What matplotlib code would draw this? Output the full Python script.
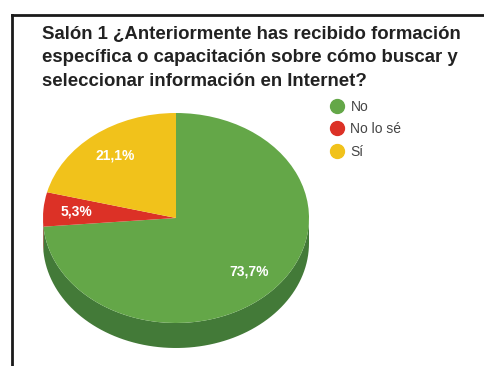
# -*- coding: utf-8 -*-
import numpy as np
import matplotlib
matplotlib.use('Agg')
import matplotlib.pyplot as plt
from matplotlib.patches import Polygon
from matplotlib.lines import Line2D

plt.rcParams['font.family'] = ['Liberation Sans', 'DejaVu Sans']

title = ('Salón 1 ¿Anteriormente has recibido formación\n'
         'específica o capacitación sobre cómo buscar y\n'
         'seleccionar información en Internet?')
labels = ['No', 'No lo sé', 'Sí']
counts = [14, 1, 4]
top_colors = ['#64a748', '#dc3126', '#f1c21b']
side_colors = ['#437a38', '#9e2219', '#b08d12']

W, H = 484, 366
fig = plt.figure(figsize=(W / 100, H / 100), dpi=100)
fig.patch.set_facecolor('white')

# pie box in pixels: centre (176, 218), radii 133 x 105, depth 25
cx, cy, rx, ry, depth_px = 176, 218, 133, 105, 25
ax = fig.add_axes([(cx - rx) / W, (H - cy - ry) / H, 2 * rx / W, 2 * ry / H])

wedges, texts, autotexts = ax.pie(
    counts, colors=top_colors, startangle=90, counterclock=False,
    autopct=lambda p: '{:.1f}%'.format(p).replace('.', ','),
    pctdistance=0.75, wedgeprops=dict(linewidth=0),
    textprops=dict(color='white', fontsize=10, fontweight='bold'))
ax.set_aspect('auto')
ax.set_xlim(-1, 1)
ax.set_ylim(-1, 1)
for w in wedges:
    w.set_zorder(3)
for t in autotexts:
    t.set_zorder(4)

# extruded side of the pie, only on the front (lower) half
depth = 2.0 * depth_px / (2 * ry)
for w, col in zip(wedges, side_colors):
    a0, a1 = sorted((w.theta1, w.theta2))
    for lo, hi in [(-180, 0), (180, 360)]:
        s, e = max(a0, lo), min(a1, hi)
        if e <= s:
            continue
        t = np.radians(np.linspace(s, e, 80))
        top = np.column_stack([np.cos(t), np.sin(t)])
        bot = np.column_stack([np.cos(t[::-1]), np.sin(t[::-1]) - depth])
        ax.add_patch(Polygon(np.vstack([top, bot]), closed=True,
                             facecolor=col, edgecolor='none', zorder=2,
                             clip_on=False))

fig.text(42 / W, 1 - 25.5 / H, title, ha='left', va='top', fontsize=13.4,
         fontweight='bold', color='#222222', linespacing=1.52)

handles = [Line2D([], [], marker='o', linestyle='none', markersize=10,
                  markerfacecolor=c, markeredgecolor=c) for c in top_colors]
fig.legend(handles, labels, loc='upper left',
           bbox_to_anchor=(322 / W, 1 - 93 / H), frameon=False,
           fontsize=10, labelcolor='#444444', handletextpad=0.35,
           labelspacing=0.6, handlelength=1.2, borderpad=0)

# frame lines on the left and top
fig.add_artist(Line2D([12 / W, 12 / W], [0, 1 - 15 / H],
                      color='#1a1a1a', linewidth=2))
fig.add_artist(Line2D([12 / W, 1], [1 - 15 / H, 1 - 15 / H],
                      color='#1a1a1a', linewidth=2))

fig.savefig('out.png', dpi=100)
